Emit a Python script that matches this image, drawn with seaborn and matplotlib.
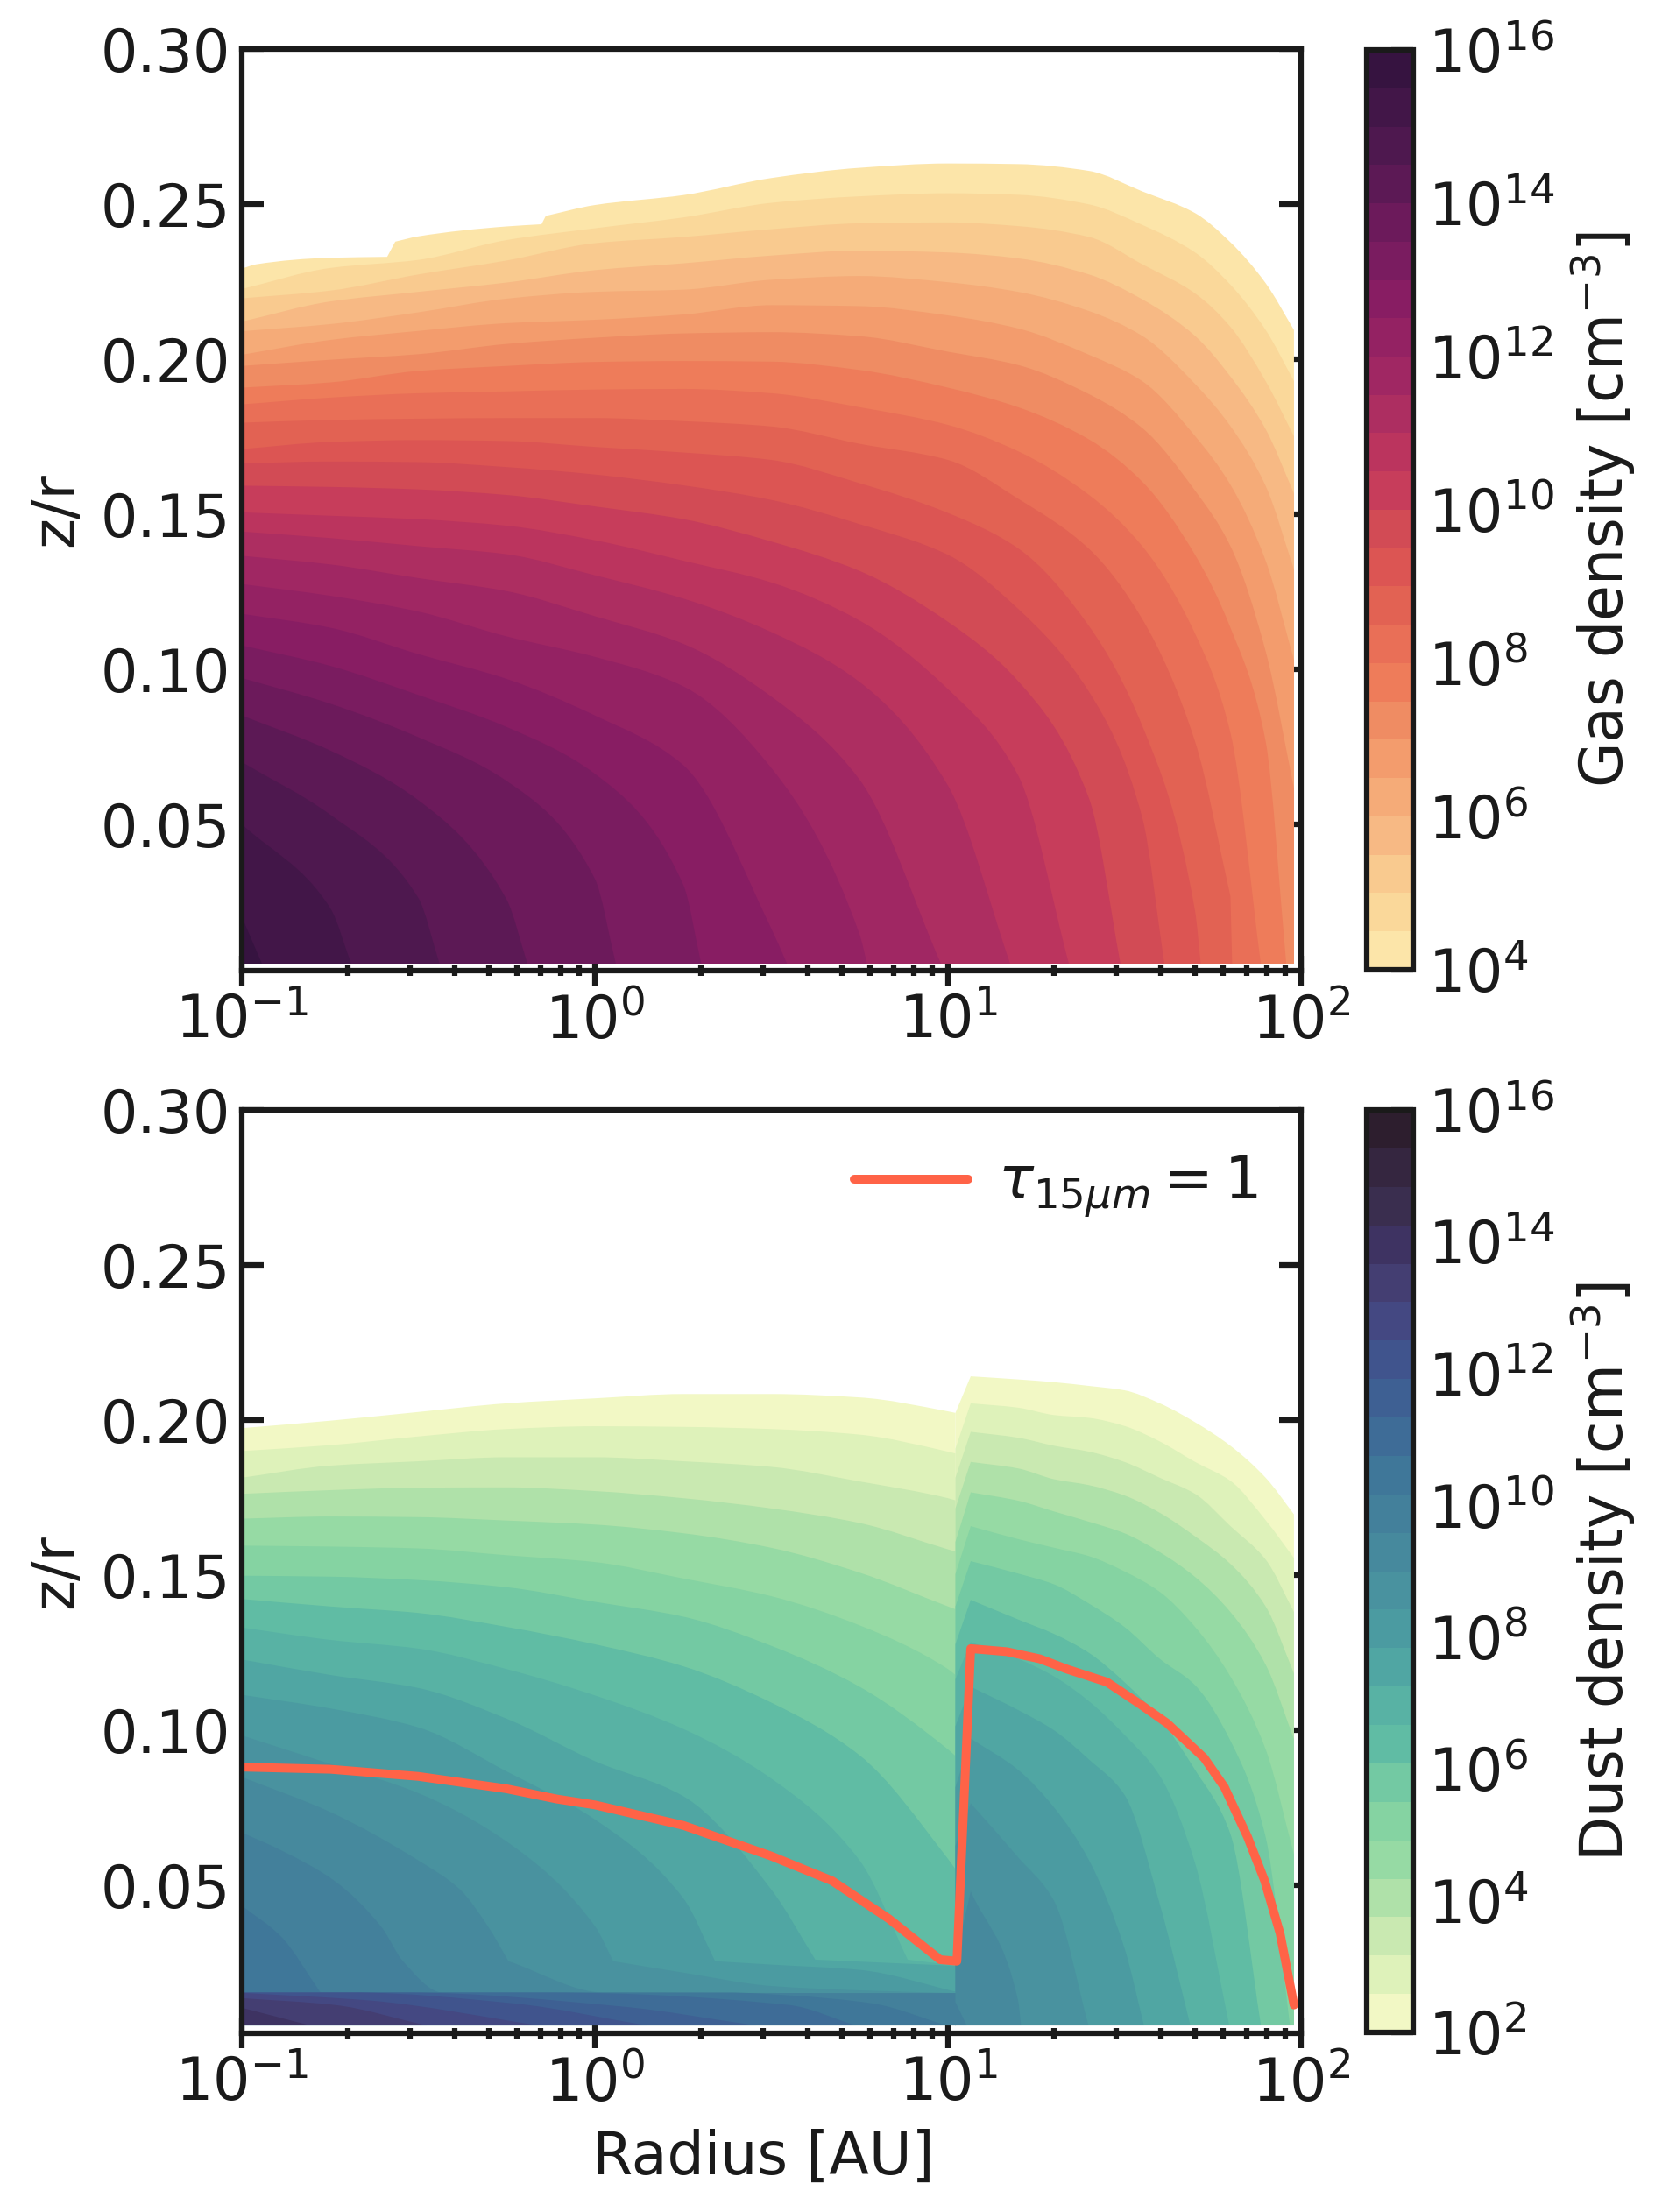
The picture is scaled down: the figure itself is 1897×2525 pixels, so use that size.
import matplotlib
matplotlib.use('Agg')
import matplotlib.pyplot as plt
import seaborn as sns
from matplotlib.cm import ScalarMappable
from matplotlib.colors import BoundaryNorm, ListedColormap
from matplotlib.patches import PathPatch
from matplotlib.path import Path
import numpy as np

# gas panel, radii where the contours were read (AU)
gas_r = [0.1, 0.178, 0.316, 0.562, 1, 1.78, 3.16, 5.62, 10, 15.8, 25.1, 35.5, 50.1, 63.1, 79.4, 95.5]
gas_top_r = [0.1, 0.11, 0.178, 0.258, 0.272, 0.316, 0.562, 0.706, 0.726, 1, 1.78, 3.16, 5.62, 10, 15.8, 25.1, 35.5, 50.1, 63.1, 79.4, 95.5]
gas_top_z = [.2292, .2306, .2327, .2330, .2379, .2396, .2428, .2435, .2462, .2497, .2529, .2584, .2617, .2631, .2629, .2607, .2541, .2471, .2377, .2245, .2094]

# z/r of each density contour, log n = 4.5 ... 15.5
gas_z_045 = [.2226, .2294, .2320, .2384, .2422, .2457, .2504, .2525, .2535, .2530, .2499, .2433, .2344, .2240, .2094, .1929]
gas_z_050 = [.2196, .2221, .2273, .2318, .2374, .2394, .2419, .2438, .2441, .2429, .2394, .2306, .2212, .2104, .1929, .1751]
gas_z_055 = [.2121, .2186, .2217, .2247, .2287, .2309, .2334, .2350, .2344, .2325, .2273, .2193, .2075, .1944, .1774, .1567]
gas_z_060 = [.2090, .2113, .2151, .2195, .2217, .2224, .2256, .2268, .2248, .2217, .2155, .2075, .1920, .1784, .1591, .1322]
gas_z_065 = [.2014, .2062, .2091, .2116, .2127, .2144, .2174, .2171, .2141, .2099, .2014, .1929, .1752, .1595, .1350, .1030]
gas_z_070 = [.1978, .1998, .2016, .2049, .2069, .2083, .2087, .2074, .2024, .1981, .1887, .1778, .1576, .1397, .1058, .0616]
gas_z_075 = [.1908, .1925, .1962, .1978, .1991, .1994, .1992, .1965, .1908, .1845, .1741, .1605, .1369, .1134, .0767]
gas_z_080 = [.1854, .1876, .1890, .1896, .1902, .1904, .1890, .1845, .1788, .1703, .1562, .1397, .1115, .0795]
gas_z_085 = [.1795, .1804, .1808, .1810, .1810, .1800, .1783, .1727, .1675, .1550, .1388, .1162, .0767, .0268]
gas_z_090 = [.1710, .1733, .1739, .1736, .1717, .1699, .1675, .1600, .1504, .1390, .1139, .0818, .0220]
gas_z_095 = [.1664, .1670, .1668, .1652, .1628, .1593, .1546, .1468, .1369, .1195, .0927, .0522]
gas_z_100 = [.1592, .1588, .1580, .1562, .1525, .1484, .1412, .1317, .1153, .0962, .0583]
gas_z_105 = [.1506, .1495, .1484, .1463, .1416, .1350, .1280, .1157, .0936, .0658]
gas_z_110 = [.1444, .1423, .1397, .1371, .1303, .1228, .1120, .0959, .0625]
gas_z_115 = [.1366, .1338, .1294, .1252, .1171, .1082, .0912, .0644]
gas_z_120 = [.1275, .1237, .1186, .1106, .1040, .0945, .0682, .0145]
gas_z_125 = [.1179, .1134, .1049, .0969, .0851, .0691, .0164]
gas_z_130 = [.1077, .1011, .0917, .0814, .0663, .0305]
gas_z_135 = [.0972, .0889, .0781, .0640, .0324]
gas_z_140 = [.0851, .0738, .0578, .0258]
gas_z_145 = [.0701, .0531, .0263]
gas_z_150 = [.0501, .0230]
gas_z_155 = [.0202]
# radius where the contour meets the bottom of the grid
gas_r_end = [None, None, None, None, None, None, None, 90.8, 76.9, 63.8, 52, 41, 30.8, 22, 15, 9.55, 5.9, 3.5, 2.0, 1.146, .644, .363, .204, .114]

# dust panel, inner disc (r < 10.5) and outer disc
dust_r_in = [0.1, 0.178, 0.316, 0.562, 1, 1.78, 3.16, 5.62, 10, 10.5]
dust_in_z_00 = [.1974, .1998, .2026, .2054, .2070, .2084, .2084, .2073, .2028, .2023]
dust_in_z_01 = [.1900, .1919, .1947, .1971, .1980, .1978, .1971, .1953, .1898, .1892]
dust_in_z_02 = [.1814, .1853, .1867, .1880, .1880, .1867, .1849, .1802, .1748, .1741]
dust_in_z_03 = [.1762, .1774, .1782, .1783, .1771, .1748, .1715, .1668, .1583, .1576]
dust_in_z_04 = [.1682, .1689, .1687, .1676, .1663, .1635, .1588, .1508, .1399, .1390]
dust_in_z_05 = [.1595, .1592, .1586, .1564, .1542, .1489, .1432, .1338, .1197, .1178]
dust_in_z_06 = [.1498, .1495, .1484, .1461, .1414, .1366, .1272, .1140, .0938, .0917]
dust_in_z_07 = [.1423, .1399, .1378, .1333, .1277, .1206, .1089, .0919, .0585, .0552]
dust_in_r_08 = [.1, .178, .316, .562, 1, 1.78, 3.16, 5.62, 7.69, 10.5]
dust_in_z_08 = [.1331, .1291, .1263, .1197, .1112, .1004, .0844, .0580, .0260, .0241]
dust_in_r_09 = [.1, .178, .316, .562, 1, 1.78, 3.16, 4.21, 10.5]
dust_in_z_09 = [.1228, .1178, .1136, .1037, .0900, .0787, .0486, .0260, .0240]
dust_in_r_10 = [.1, .178, .316, .562, 1, 1.78, 2.19, 3.16, 5.62, 10.5]
dust_in_z_10 = [.1114, .1070, .1009, .0867, .0712, .0458, .0255, .0244, .0227, .0157]
dust_in_r_11 = [.1, .178, .316, .562, 1, 1.127, 1.78, 3.16, 5.62, 10.5]
dust_in_z_11 = [.0983, .0891, .0797, .0641, .0368, .0255, .0218, .0175, .0161, .0152]
dust_in_r_12 = [.1, .178, .316, .415, .5, .569, 1.06, 10.5]
dust_in_z_12 = [.0849, .0736, .0580, .0486, .0364, .0255, .0154, .0152]
dust_in_r_13 = [.1, .129, .183, .249, .286, .37, 10.5, 10.5, 11.3]
dust_in_z_13 = [.0670, .0613, .0514, .0364, .0255, .0154, .0152, .0123, .0048]
dust_in_r_14 = [.1, .129, .167, 2.38, 3.53, 6.1, 9.9]
dust_in_z_14 = [.0434, .0335, .0154, .0154, .0145, .0119, .0048]
dust_in_r_15 = [.1, .743, 3.53, 5.47]
dust_in_z_15 = [.0154, .0154, .0114, .0048]
dust_in_r_16 = [.1, .293, 1.19, 2.85]
dust_in_z_16 = [.0154, .0154, .0109, .0048]
dust_in_r_17 = [.1, .207, .588, 1.40]
dust_in_z_17 = [.0154, .0154, .0119, .0048]
dust_in_r_18 = [.1, .232, .693]
dust_in_z_18 = [.0153, .0128, .0048]
dust_in_r_19 = [.1, .183, .333]
dust_in_z_19 = [.0136, .0114, .0048]
dust_in_r_20 = [.1, .156]
dust_in_z_20 = [.0105, .0048]

dust_r_out = [10.5, 11.6, 15.8, 20, 25.1, 31.6, 39.8, 50.1, 63.1, 79.4, 95.5]
dust_out_z_00 = [.2023, .2141, .2131, .2122, .2110, .2096, .2054, .1993, .1917, .1814, .1696]
dust_out_z_01 = [.1908, .2054, .2040, .2016, .2007, .1981, .1931, .1865, .1804, .1677, .1555]
dust_out_z_02 = [.1814, .1962, .1943, .1917, .1898, .1865, .1814, .1762, .1658, .1550, .1381]
dust_out_z_03 = [.1715, .1865, .1844, .1809, .1790, .1757, .1701, .1625, .1536, .1399, .1183]
dust_out_z_04 = [.1607, .1767, .1740, .1705, .1672, .1635, .1574, .1494, .1381, .1211, .0971]
dust_out_z_05 = [.1503, .1658, .1616, .1588, .1561, .1512, .1446, .1333, .1173, .0938, .0599]
dust_out_z_06 = [.1399, .1545, .1505, .1470, .1408, .1333, .1230, .1145, .0966, .0655]
dust_out_z_07 = [.1277, .1420, .1357, .1310, .1249, .1155, .1037, .0872, .0665]
dust_out_z_08 = [.1164, .1284, .1230, .1173, .1093, .0985, .0853, .0571]
dust_out_z_09 = [.1013, .1140, .1065, .0999, .0905, .0792, .0439]
dust_out_z_10 = [.0816, .0973, .0872, .0750, .0580, .0298]
dust_out_z_11 = [.0627, .0764, .0590, .0448]
dust_out_z_12 = [.0260, .0481, .0128]
dust_out_r_end = [None, None, None, None, None, None, 93, 77, 62.6, 48.6, 35.9, 25, 16.1]

# tau = 1 surface
tau_r = [.1, .178, .316, .562, .78, 1, 1.78, 3.16, 4.7, 6.8, 9.5, 10.6, 11.6, 14.7, 18.2, 21.7, 28.2, 35, 41.7, 53.2, 60.7, 70.6, 78.9, 87.2, 95.5]
tau_z = [.0881, .0874, .0851, .0811, .0778, .0759, .0693, .0594, .0514, .0392, .0260, .0255, .1263, .1253, .1230, .1197, .1155, .1084, .1023, .0910, .0816, .0655, .0514, .0345, .0114]

gas_colors = ['#fce5a9', '#fad89a', '#f9ca8f', '#f7b984', '#f5ab78', '#f39c6d', '#ef8c63', '#ee7c5a',
              '#e96f57', '#e26253', '#dc5553', '#d24b55', '#c73d5b', '#bb345e', '#ad2e61', '#a02763',
              '#942263', '#881d63', '#7a1c60', '#6c1a5b', '#5c1955', '#4e184f', '#421648', '#361340']
dust_colors = ['#f2f8c5', '#def2ba', '#c9e9b1', '#afe1a9', '#96daa4', '#85d3a2', '#73c9a3', '#60bca4',
               '#58b2a4', '#50a6a3', '#4b9ba1', '#49929f', '#46899d', '#43809b', '#3f7799', '#3e6c97',
               '#3e6093', '#40548d', '#444882', '#443e72', '#3e3362', '#3a2e4f', '#352640', '#2d1e2e']

gas_bottom = 0.0051
dust_bottom = 0.0048
fs = 16

sns.set_theme(style='ticks', rc={'axes.linewidth': 1.5, 'text.color': 'k', 'axes.labelcolor': 'k',
                                 'xtick.color': 'k', 'ytick.color': 'k', 'axes.edgecolor': 'k'})
plt.rcParams['font.family'] = ['DejaVu Sans']
W, H = 1897, 2525
fig = plt.figure(figsize=(W / 300, H / 300), dpi=300)


def box(x0, x1, y0, y1):
    return [x0 / W, 1 - y1 / H, (x1 - x0) / W, (y1 - y0) / H]


def fill_level(ax, r, z, color, bottom):
    # contour edge drawn as a bezier path through the read points, real corners stay sharp
    x = np.log10(r)
    y = np.array(z, dtype=float)
    dx = np.diff(x)
    n = len(x)
    right = np.zeros(n)
    left = np.zeros(n)
    s = [(y[i + 1] - y[i]) / dx[i] if dx[i] > 0 else None for i in range(n - 1)]
    if n > 1:
        right[0] = s[0] or 0
        left[-1] = s[-1] or 0
    for i in range(1, n - 1):
        s0, s1 = s[i - 1], s[i]
        if s0 is None or s1 is None:
            left[i] = s0 or 0
            right[i] = s1 or 0
            continue
        big, small = max(abs(s0), abs(s1)), min(abs(s0), abs(s1))
        if big > 0.1 and (small == 0 or big / small > 5 or s0 * s1 < 0):
            left[i], right[i] = s0, s1
        elif s0 * s1 <= 0:
            left[i] = right[i] = 0
        else:
            w0, w1 = 2 * dx[i] + dx[i - 1], dx[i] + 2 * dx[i - 1]
            left[i] = right[i] = (w0 + w1) / (w0 / s0 + w1 / s1)
    verts = [(r[0], y[0])]
    codes = [Path.MOVETO]
    for i in range(n - 1):
        if dx[i] > 0:
            h = dx[i] / 3
            verts += [(10 ** (x[i] + h), y[i] + right[i] * h),
                      (10 ** (x[i + 1] - h), y[i + 1] - left[i + 1] * h),
                      (r[i + 1], y[i + 1])]
            codes += [Path.CURVE4] * 3
        else:
            verts.append((r[i + 1], y[i + 1]))
            codes.append(Path.LINETO)
    verts += [(r[-1], bottom), (r[0], bottom), (r[0], y[0])]
    codes += [Path.LINETO, Path.LINETO, Path.CLOSEPOLY]
    ax.add_patch(PathPatch(Path(verts, codes), facecolor=color, edgecolor='none', lw=0))


def style_axes(ax, ymin):
    ax.set_xscale('log')
    ax.set_xlim(0.1, 100)
    ax.set_ylim(ymin, 0.30)
    ax.set_yticks([0.05, 0.10, 0.15, 0.20, 0.25, 0.30])
    ax.set_yticklabels(['0.05', '0.10', '0.15', '0.20', '0.25', '0.30'])
    ax.tick_params(axis='x', which='major', direction='inout', length=8, width=1.5, labelsize=fs, pad=2)
    ax.tick_params(axis='x', which='minor', direction='inout', length=3, width=1.5)
    ax.tick_params(axis='y', which='major', direction='in', left=True, right=True, length=6, width=1.5, labelsize=fs, pad=3.2)
    ax.set_ylabel('z/r', fontsize=fs, labelpad=4.2)
    for s in ax.spines.values():
        s.set_visible(True)
        s.set_linewidth(1.5)
        s.set_zorder(10)


def colorbar(ax_box, colors, lo, hi, ticks, label):
    cax = fig.add_axes(ax_box)
    levels = np.linspace(lo, hi, len(colors) + 1)
    sm = ScalarMappable(norm=BoundaryNorm(levels, len(colors)), cmap=ListedColormap(colors))
    cb = fig.colorbar(sm, cax=cax, spacing='proportional', ticks=ticks)
    cb.set_ticklabels([r'$10^{%d}$' % t for t in ticks])
    cb.minorticks_off()
    cb.ax.tick_params(direction='in', length=6, width=1.5, labelsize=fs, pad=4)
    cb.outline.set_linewidth(1.5)
    cb.set_label(label, fontsize=fs, labelpad=3.9)


# top panel
ax1 = fig.add_axes(box(276, 1485, 56, 1108))
gas_rows = [gas_z_045, gas_z_050, gas_z_055, gas_z_060, gas_z_065, gas_z_070, gas_z_075, gas_z_080,
            gas_z_085, gas_z_090, gas_z_095, gas_z_100, gas_z_105, gas_z_110, gas_z_115, gas_z_120,
            gas_z_125, gas_z_130, gas_z_135, gas_z_140, gas_z_145, gas_z_150, gas_z_155]
fill_level(ax1, gas_top_r, gas_top_z, gas_colors[0], gas_bottom)
for i, z in enumerate(gas_rows):
    r = gas_r[:len(z)]
    end = gas_r_end[i + 1]
    if end is not None:
        r = r + [end]
        z = z + [gas_bottom]
    fill_level(ax1, r, z, gas_colors[i + 1], gas_bottom)
style_axes(ax1, 0.00282)
colorbar(box(1560, 1613, 57, 1107), gas_colors, 4, 16, [4, 6, 8, 10, 12, 14, 16], r'Gas density [cm$^{-3}$]')

# bottom panel
ax2 = fig.add_axes(box(276, 1485, 1267, 2321))
dust_in = [(dust_r_in, dust_in_z_00), (dust_r_in, dust_in_z_01), (dust_r_in, dust_in_z_02), (dust_r_in, dust_in_z_03),
           (dust_r_in, dust_in_z_04), (dust_r_in, dust_in_z_05), (dust_r_in, dust_in_z_06), (dust_r_in, dust_in_z_07),
           (dust_in_r_08, dust_in_z_08), (dust_in_r_09, dust_in_z_09), (dust_in_r_10, dust_in_z_10),
           (dust_in_r_11, dust_in_z_11), (dust_in_r_12, dust_in_z_12), (dust_in_r_13, dust_in_z_13),
           (dust_in_r_14, dust_in_z_14), (dust_in_r_15, dust_in_z_15), (dust_in_r_16, dust_in_z_16),
           (dust_in_r_17, dust_in_z_17), (dust_in_r_18, dust_in_z_18), (dust_in_r_19, dust_in_z_19),
           (dust_in_r_20, dust_in_z_20)]
dust_out = [dust_out_z_00, dust_out_z_01, dust_out_z_02, dust_out_z_03, dust_out_z_04, dust_out_z_05, dust_out_z_06,
            dust_out_z_07, dust_out_z_08, dust_out_z_09, dust_out_z_10, dust_out_z_11, dust_out_z_12]
for k, (r, z) in enumerate(dust_in):
    fill_level(ax2, r, z, dust_colors[k], dust_bottom)
    if k < len(dust_out):
        zo = dust_out[k]
        ro = dust_r_out[:len(zo)]
        if dust_out_r_end[k] is not None:
            ro = ro + [dust_out_r_end[k]]
            zo = zo + [dust_bottom]
        fill_level(ax2, ro, zo, dust_colors[k], dust_bottom)

sns.lineplot(x=tau_r, y=tau_z, ax=ax2, color='tomato', lw=2.4, sort=False, errorbar=None,
             label=r'$\tau_{15\mu m}=1$')
style_axes(ax2, 0.00226)
ax2.set_xlabel('Radius [AU]', fontsize=fs, labelpad=4.2, x=0.492)
ax2.legend(loc='upper right', frameon=False, fontsize=fs, handlelength=1.95, handletextpad=0.5, borderaxespad=0.35)
colorbar(box(1560, 1613, 1267, 2320), dust_colors, 2, 16, [2, 4, 6, 8, 10, 12, 14, 16], r'Dust density [cm$^{-3}$]')

fig.savefig('out.png', dpi=300)
